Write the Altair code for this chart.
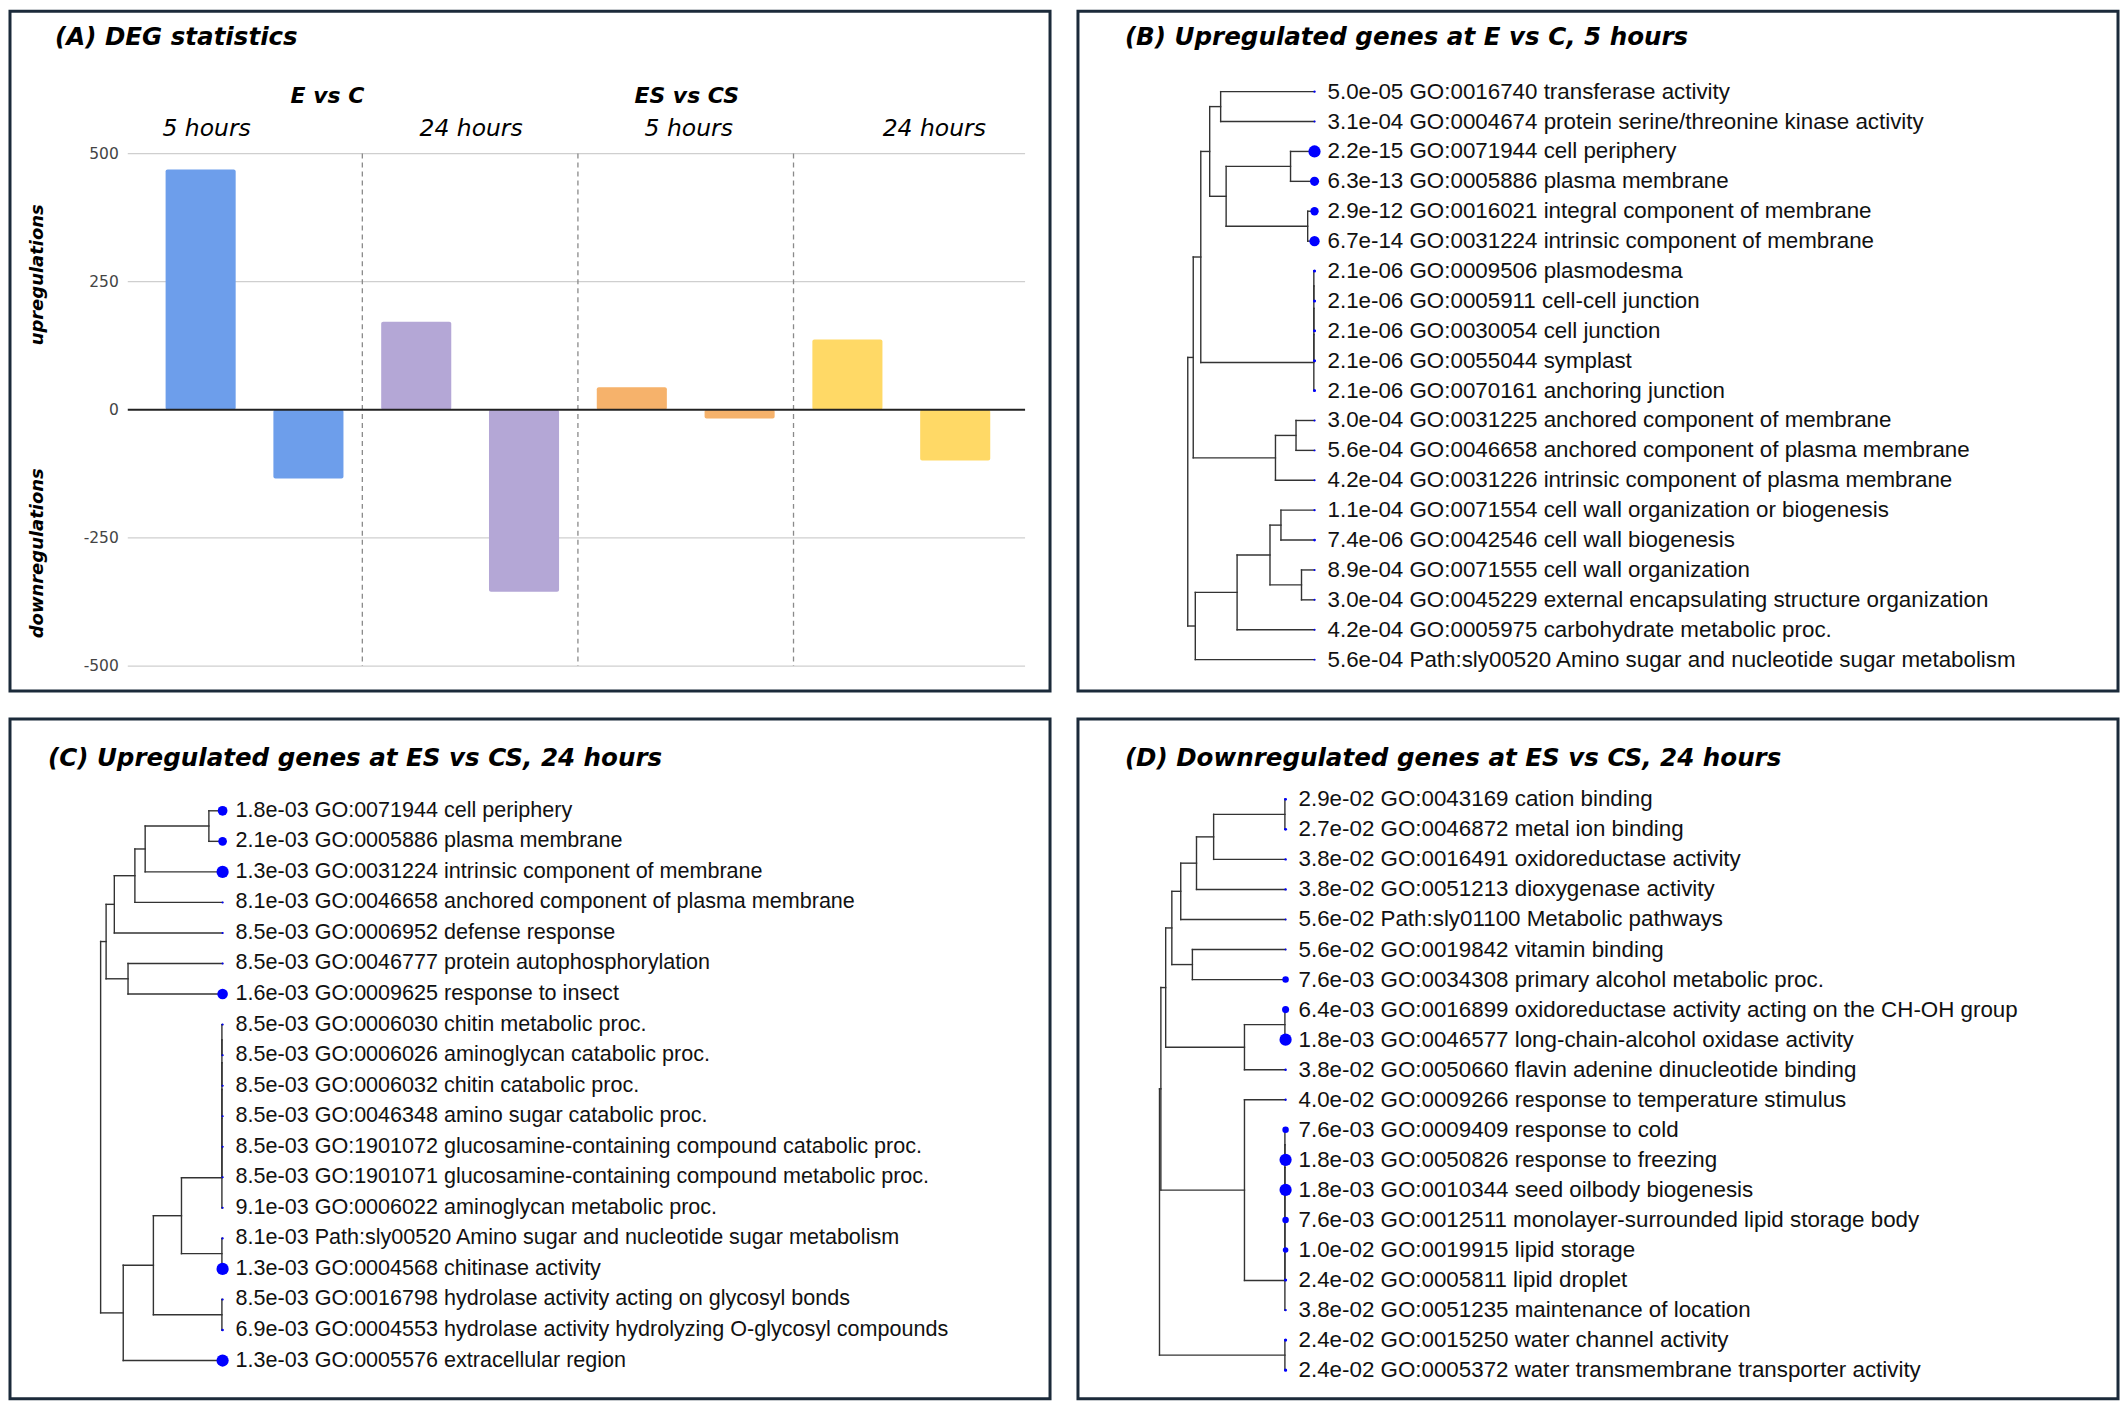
import math
import pandas as pd
import altair as alt

# ---------------- data: panel A ----------------
deg_groups = ["E vs C, 5 hours", "E vs C, 24 hours", "ES vs CS, 5 hours", "ES vs CS, 24 hours"]
deg_up = [469, 172, 44, 137]
deg_down = [-134, -355, -17, -99]
deg_colors = ["#6d9eeb", "#b4a7d6", "#f6b26b", "#ffd966"]
deg_ticks = [500, 250, 0, -250, -500]

# ---------------- data: panel B ----------------
b_pvals = ["5.0e-05", "3.1e-04", "2.2e-15", "6.3e-13", "2.9e-12", "6.7e-14", "2.1e-06", "2.1e-06",
           "2.1e-06", "2.1e-06", "2.1e-06", "3.0e-04", "5.6e-04", "4.2e-04", "1.1e-04", "7.4e-06",
           "8.9e-04", "3.0e-04", "4.2e-04", "5.6e-04"]
b_terms = ["GO:0016740", "GO:0004674", "GO:0071944", "GO:0005886", "GO:0016021", "GO:0031224",
           "GO:0009506", "GO:0005911", "GO:0030054", "GO:0055044", "GO:0070161", "GO:0031225",
           "GO:0046658", "GO:0031226", "GO:0071554", "GO:0042546", "GO:0071555", "GO:0045229",
           "GO:0005975", "Path:sly00520"]
b_names = ["transferase activity", "protein serine/threonine kinase activity", "cell periphery",
           "plasma membrane", "integral component of membrane", "intrinsic component of membrane",
           "plasmodesma", "cell-cell junction", "cell junction", "symplast", "anchoring junction",
           "anchored component of membrane", "anchored component of plasma membrane",
           "intrinsic component of plasma membrane", "cell wall organization or biogenesis",
           "cell wall biogenesis", "cell wall organization", "external encapsulating structure organization",
           "carbohydrate metabolic proc.", "Amino sugar and nucleotide sugar metabolism"]
# merges: (child a, child b, height); ids >= n refer to earlier merges
b_merges = [(0, 1, 137), (2, 3, 35), (4, 5, 10), (21, 22, 129), (20, 23, 153),
            (6, 7, 1), (25, 8, 1), (26, 9, 1), (27, 10, 1), (24, 28, 166),
            (11, 12, 27), (30, 13, 57), (29, 31, 177), (14, 15, 49), (16, 17, 19),
            (33, 34, 65), (35, 18, 113), (36, 19, 174), (32, 37, 185)]

# ---------------- data: panel C ----------------
c_pvals = ["1.8e-03", "2.1e-03", "1.3e-03", "8.1e-03", "8.5e-03", "8.5e-03", "1.6e-03", "8.5e-03",
           "8.5e-03", "8.5e-03", "8.5e-03", "8.5e-03", "8.5e-03", "9.1e-03", "8.1e-03", "1.3e-03",
           "8.5e-03", "6.9e-03", "1.3e-03"]
c_terms = ["GO:0071944", "GO:0005886", "GO:0031224", "GO:0046658", "GO:0006952", "GO:0046777",
           "GO:0009625", "GO:0006030", "GO:0006026", "GO:0006032", "GO:0046348", "GO:1901072",
           "GO:1901071", "GO:0006022", "Path:sly00520", "GO:0004568", "GO:0016798", "GO:0004553",
           "GO:0005576"]
c_names = ["cell periphery", "plasma membrane", "intrinsic component of membrane",
           "anchored component of plasma membrane", "defense response", "protein autophosphorylation",
           "response to insect", "chitin metabolic proc.", "aminoglycan catabolic proc.",
           "chitin catabolic proc.", "amino sugar catabolic proc.",
           "glucosamine-containing compound catabolic proc.", "glucosamine-containing compound metabolic proc.",
           "aminoglycan metabolic proc.", "Amino sugar and nucleotide sugar metabolism", "chitinase activity",
           "hydrolase activity acting on glycosyl bonds", "hydrolase activity hydrolyzing O-glycosyl compounds",
           "extracellular region"]
c_merges = [(0, 1, 20), (19, 2, 113), (20, 3, 128), (21, 4, 158), (5, 6, 138), (22, 23, 170),
            (7, 8, 1), (25, 9, 1), (26, 10, 1), (27, 11, 1), (28, 12, 1), (29, 13, 1),
            (14, 15, 1), (30, 31, 60), (16, 17, 1), (32, 33, 101), (34, 18, 145), (24, 35, 178)]

# ---------------- data: panel D ----------------
d_pvals = ["2.9e-02", "2.7e-02", "3.8e-02", "3.8e-02", "5.6e-02", "5.6e-02", "7.6e-03", "6.4e-03",
           "1.8e-03", "3.8e-02", "4.0e-02", "7.6e-03", "1.8e-03", "1.8e-03", "7.6e-03", "1.0e-02",
           "2.4e-02", "3.8e-02", "2.4e-02", "2.4e-02"]
d_terms = ["GO:0043169", "GO:0046872", "GO:0016491", "GO:0051213", "Path:sly01100", "GO:0019842",
           "GO:0034308", "GO:0016899", "GO:0046577", "GO:0050660", "GO:0009266", "GO:0009409",
           "GO:0050826", "GO:0010344", "GO:0012511", "GO:0019915", "GO:0005811", "GO:0051235",
           "GO:0015250", "GO:0005372"]
d_names = ["cation binding", "metal ion binding", "oxidoreductase activity", "dioxygenase activity",
           "Metabolic pathways", "vitamin binding", "primary alcohol metabolic proc.",
           "oxidoreductase activity acting on the CH-OH group", "long-chain-alcohol oxidase activity",
           "flavin adenine dinucleotide binding", "response to temperature stimulus", "response to cold",
           "response to freezing", "seed oilbody biogenesis", "monolayer-surrounded lipid storage body",
           "lipid storage", "lipid droplet", "maintenance of location", "water channel activity",
           "water transmembrane transporter activity"]
d_merges = [(0, 1, 1), (20, 2, 105), (21, 3, 130), (22, 4, 153), (5, 6, 136), (23, 24, 166),
            (7, 8, 1), (26, 9, 60), (25, 27, 175), (11, 12, 1), (29, 13, 1), (30, 14, 1),
            (31, 15, 1), (32, 16, 1), (33, 17, 1), (10, 34, 60), (18, 19, 1), (28, 35, 182),
            (37, 36, 184)]

# ---------------- layout / style ----------------
W, H = 1042, 681
BORDER = "#1b2a3a"
TITLE_FONT = "DejaVu Sans"
LABEL_FONT = "Liberation Sans"
TITLE_SIZE = 24.6


def text_at(t, x, y, size, weight="normal", style="normal", align="left", font=TITLE_FONT,
            angle=0, color="#000000"):
    return alt.Chart(pd.DataFrame({"t": [t]})).mark_text(
        align=align, baseline="middle", font=font, fontSize=size, fontWeight=weight,
        fontStyle=style, angle=angle, color=color
    ).encode(text="t:N", x=alt.value(x), y=alt.value(y))


# ---------------- panel A ----------------
def panel_a():
    bar_c, step = 191.0, 108.0           # first bar centre (px) and bar step (px)
    y500, ym500 = 142.5, 656.0           # pixel rows of +500 and -500
    ppu = (ym500 - y500) / 1000.0
    xs = alt.Scale(domain=[-bar_c / step, (W - bar_c) / step], nice=False, zero=False)
    ys = alt.Scale(domain=[-500 - (H - ym500) / ppu, 500 + y500 / ppu], nice=False, zero=False)

    rows = []
    for g, (grp, u, d, col) in enumerate(zip(deg_groups, deg_up, deg_down, deg_colors)):
        for k, v in enumerate([u, d]):
            i = 2 * g + k
            rows.append({"grp": grp, "idx": i, "x0": i - 0.325, "x1": i + 0.325,
                         "value": v, "base": 0, "color": col})
    bars_df = pd.DataFrame(rows)

    gx0, gx1 = (118 - bar_c) / step, (1017 - bar_c) / step
    tick_df = pd.DataFrame({"tick": deg_ticks, "label": [str(t) for t in deg_ticks],
                            "gx0": gx0, "gx1": gx1})
    grid = alt.Chart(tick_df[tick_df.tick != 0]).mark_rule(color="#cfcfcf", strokeWidth=1.2).encode(
        x=alt.X("gx0:Q", scale=xs, axis=None), x2="gx1:Q", y=alt.Y("tick:Q", scale=ys, axis=None))
    sep_df = pd.DataFrame({"sx": [1.5, 3.5, 5.5], "top": 500, "bot": -500})
    seps = alt.Chart(sep_df).mark_rule(color="#8a8a8a", strokeWidth=1.3, strokeDash=[5, 4]).encode(
        x=alt.X("sx:Q", scale=xs, axis=None), y=alt.Y("top:Q", scale=ys, axis=None), y2="bot:Q")
    bars = alt.Chart(bars_df).mark_bar(cornerRadius=2).encode(
        x=alt.X("x0:Q", scale=xs, axis=None), x2="x1:Q",
        y=alt.Y("value:Q", scale=ys, axis=None), y2="base:Q",
        color=alt.Color("color:N", scale=None))
    zero = alt.Chart(tick_df[tick_df.tick == 0]).mark_rule(color="#222222", strokeWidth=2).encode(
        x=alt.X("gx0:Q", scale=xs, axis=None), x2="gx1:Q", y=alt.Y("tick:Q", scale=ys, axis=None))
    ticklab = alt.Chart(tick_df).mark_text(align="right", baseline="middle", font=TITLE_FONT,
                                           fontSize=15.5, color="#444444").encode(
        x=alt.value(109), y=alt.Y("tick:Q", scale=ys, axis=None), text="label:N")

    ann = [
        text_at("(A) DEG statistics", 45, 27, TITLE_SIZE, "bold", "italic"),
        text_at("E vs C", 318, 85, 22, "bold", "italic", "center"),
        text_at("ES vs CS", 678, 85, 22, "bold", "italic", "center"),
        text_at("5 hours", 197, 118, 23.5, "normal", "italic", "center"),
        text_at("24 hours", 462, 118, 23.5, "normal", "italic", "center"),
        text_at("5 hours", 680, 118, 23.5, "normal", "italic", "center"),
        text_at("24 hours", 926, 118, 23.5, "normal", "italic", "center"),
        text_at("upregulations", 28, 264, 18, "bold", "italic", "center", angle=270),
        text_at("downregulations", 28, 543, 18, "bold", "italic", "center", angle=270),
    ]
    return alt.layer(grid, seps, bars, zero, ticklab, *ann).properties(width=W, height=H)


# ---------------- dendrogram panels ----------------
def dendro_panel(title, title_xy, pvals, terms, names, merges, leaf_x, first_y, step,
                 font_size, unit=0.6865):
    n = len(pvals)
    ypos = [float(i) for i in range(n)]
    hpos = [0.0] * n
    segs = []
    for a, b, h in merges:
        ya, yb = ypos[a], ypos[b]
        segs.append({"h1": h, "y1": ya, "h2": h, "y2": yb})
        segs.append({"h1": h, "y1": ya, "h2": hpos[a], "y2": ya})
        segs.append({"h1": h, "y1": yb, "h2": hpos[b], "y2": yb})
        ypos.append((ya + yb) / 2.0)
        hpos.append(float(h))
    seg_df = pd.DataFrame(segs)

    lp = [-math.log10(float(p)) for p in pvals]
    lo, hi = min(lp), max(lp)
    rows = []
    for i in range(n):
        t = (lp[i] - lo) / (hi - lo) if hi > lo else 1.0
        r = 1.1 + 5.8 * t ** 1.5
        rows.append({"idx": i, "h": 0.0, "sz": math.pi * r * r,
                     "label": f"{pvals[i]} {terms[i]} {names[i]}"})
    leaf_df = pd.DataFrame(rows)

    xs = alt.Scale(domain=[-(W - leaf_x) / unit, leaf_x / unit], reverse=True, nice=False, zero=False)
    ys = alt.Scale(domain=[-first_y / step, (H - first_y) / step], reverse=True, nice=False, zero=False)

    lines = alt.Chart(seg_df).mark_rule(color="#333333", strokeWidth=1.4, strokeCap="square").encode(
        x=alt.X("h1:Q", scale=xs, axis=None), x2="h2:Q",
        y=alt.Y("y1:Q", scale=ys, axis=None), y2="y2:Q")
    dots = alt.Chart(leaf_df).mark_circle(color="#0000ff", opacity=1).encode(
        x=alt.X("h:Q", scale=xs, axis=None), y=alt.Y("idx:Q", scale=ys, axis=None),
        size=alt.Size("sz:Q", scale=None))
    labels = alt.Chart(leaf_df).mark_text(align="left", baseline="middle", dx=13, font=LABEL_FONT,
                                          fontSize=font_size, color="#111111").encode(
        x=alt.X("h:Q", scale=xs, axis=None), y=alt.Y("idx:Q", scale=ys, axis=None), text="label:N")
    ttl = text_at(title, title_xy[0], title_xy[1], TITLE_SIZE, "bold", "italic")
    return alt.layer(lines, dots, labels, ttl).properties(width=W, height=H)


pa = panel_a()
pb = dendro_panel("(B) Upregulated genes at E vs C, 5 hours", (47, 27), b_pvals, b_terms, b_names,
                  b_merges, leaf_x=237.0, first_y=80.5, step=29.95, font_size=22.4)
pc = dendro_panel("(C) Upregulated genes at ES vs CS, 24 hours", (38, 40), c_pvals, c_terms, c_names,
                  c_merges, leaf_x=213.0, first_y=92.0, step=30.6, font_size=21.6)
pd_ = dendro_panel("(D) Downregulated genes at ES vs CS, 24 hours", (47, 40), d_pvals, d_terms, d_names,
                   d_merges, leaf_x=208.0, first_y=80.5, step=30.1, font_size=22.4)

chart = alt.vconcat(
    alt.hconcat(pa, pb, spacing=24),
    alt.hconcat(pc, pd_, spacing=24),
    spacing=24,
).properties(padding=0).configure_view(stroke=BORDER, strokeWidth=3)

chart.save("out.html", embed_options={"renderer": "svg", "actions": False})
